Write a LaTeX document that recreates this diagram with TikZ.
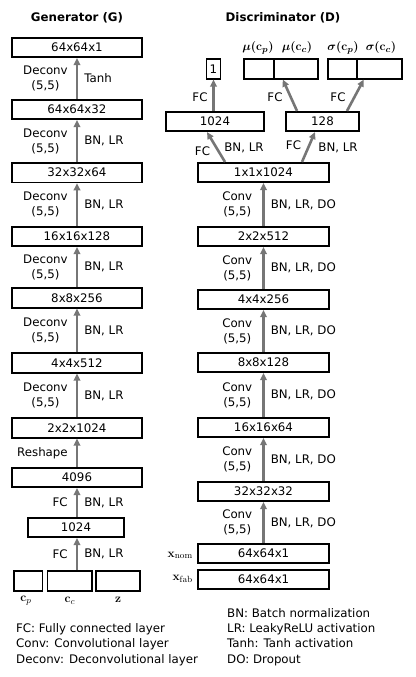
\documentclass[tikz,border=0pt]{standalone}
\usepackage[no-math]{fontspec}
\setmainfont{DejaVu Sans}
\usepackage{amsmath}
\usepackage{bm}
\usetikzlibrary{arrows.meta,calc}
\definecolor{arrgray}{RGB}{118,118,118}
\begin{document}
\begin{tikzpicture}[x=1pt,y=-1pt,
  font=\fontsize{11.8}{15}\selectfont,
  box/.style={draw,line width=1.6pt,minimum height=19.5pt,inner sep=0pt},
  gbox/.style={box,minimum width=130pt},
  dbox/.style={box,minimum width=131pt},
  arr/.style={draw=arrgray,line width=2.6pt,-{Triangle[length=7pt,width=6.5pt]}},
  lab/.style={inner sep=0pt,align=center},
  mlab/.style={inner sep=0pt,font=\fontsize{13}{15}\selectfont},
  llab/.style={lab,anchor=east,xshift=-8pt},
  rlab/.style={lab,anchor=west,xshift=6pt},
  dllab/.style={lab,anchor=east,xshift=-10pt},
  leg/.style={inner sep=0pt,anchor=base west},
]
\useasboundingbox (0,0) rectangle (415,677);

% titles
\node[lab,font=\fontsize{11.8}{15}\selectfont\bfseries] (tg) at (77,18) {Generator (G)};
\node[lab,font=\fontsize{11.8}{15}\selectfont\bfseries] (td) at (283,18) {Discriminator (D)};

% generator
\node[gbox] (g1) at (77,47.5) {64x64x1};
\node[gbox] (g2) at (77,109.5) {64x64x32};
\node[gbox] (g3) at (77,172.7) {32x32x64};
\node[gbox] (g4) at (77,236.5) {16x16x128};
\node[gbox] (g5) at (77,298) {8x8x256};
\node[gbox] (g6) at (77,363) {4x4x512};
\node[gbox] (g7) at (77,428) {2x2x1024};
\node[gbox] (g8) at (77,477.5) {4096};
\node[box,minimum width=96.5pt] (g9) at (76,527.5) {1024};
\node[box,minimum width=28.5pt,minimum height=20.5pt] (inp) at (28.3,581) {};
\node[box,minimum width=44.5pt,minimum height=20.5pt] (inc) at (69.7,581) {};
\node[box,minimum width=44.2pt,minimum height=20.5pt] (inz) at (117.8,581) {};
\node[mlab] (lcp) at (26,601) {$\mathbf{c}_p$};
\node[mlab] (lcc) at (70,601) {$\mathbf{c}_c$};
\node[mlab] (lz) at (118,600) {$\mathbf{z}$};

\draw[arr] (g2.north) -- node[llab] (ga1) {Deconv\\(5,5)} node[rlab] (gb1) {Tanh} (g1.south);
\draw[arr] (g3.north) -- node[llab] (ga2) {Deconv\\(5,5)} node[rlab] (gb2) {BN, LR} (g2.south);
\draw[arr] (g4.north) -- node[llab] (ga3) {Deconv\\(5,5)} node[rlab] (gb3) {BN, LR} (g3.south);
\draw[arr] (g5.north) -- node[llab] (ga4) {Deconv\\(5,5)} node[rlab] (gb4) {BN, LR} (g4.south);
\draw[arr] (g6.north) -- node[llab] (ga5) {Deconv\\(5,5)} node[rlab] (gb5) {BN, LR} (g5.south);
\draw[arr] (g7.north) -- node[llab] (ga6) {Deconv\\(5,5)} node[rlab] (gb6) {BN, LR} (g6.south);
\draw[arr] (g8.north) -- node[llab] (ga7) {Reshape} (g7.south);
\draw[arr] (g9.north -| g8.south) -- node[llab] (ga8) {FC} node[rlab] (gb8) {BN, LR} (g8.south);
\draw[arr] (inc.north -| g8.south) -- node[llab] (ga9) {FC} node[rlab] (gb9) {BN, LR} (g9.south -| g8.south);

% discriminator
\node[dbox] (d1) at (263.5,172.5) {1x1x1024};
\node[dbox] (d2) at (263.5,236.5) {2x2x512};
\node[dbox] (d3) at (263.5,299.5) {4x4x256};
\node[dbox] (d4) at (263.5,362.5) {8x8x128};
\node[dbox] (d5) at (263.5,427.5) {16x16x64};
\node[dbox] (d6) at (263.5,491.5) {32x32x32};
\node[dbox] (dn) at (263.5,553.5) {64x64x1};
\node[dbox] (df) at (263.5,579.5) {64x64x1};
\node[mlab,anchor=base east] (xn) at (193,557) {$\mathbf{x}_{\mathrm{nom}}$};
\node[mlab,anchor=base east] (xf) at (193,580.5) {$\mathbf{x}_{\mathrm{fab}}$};

\draw[arr] (d2.north) -- node[dllab] (da1) {Conv\\(5,5)} node[rlab] (db1) {BN, LR, DO} (d1.south);
\draw[arr] (d3.north) -- node[dllab] (da2) {Conv\\(5,5)} node[rlab] (db2) {BN, LR, DO} (d2.south);
\draw[arr] (d4.north) -- node[dllab] (da3) {Conv\\(5,5)} node[rlab] (db3) {BN, LR, DO} (d3.south);
\draw[arr] (d5.north) -- node[dllab] (da4) {Conv\\(5,5)} node[rlab] (db4) {BN, LR, DO} (d4.south);
\draw[arr] (d6.north) -- node[dllab] (da5) {Conv\\(5,5)} node[rlab] (db5) {BN, LR, DO} (d5.south);
\draw[arr] (dn.north) -- node[dllab] (da6) {Conv\\(5,5)} node[rlab] (db6) {BN, LR, DO} (d6.south);

% top of discriminator
\node[box,minimum width=98.5pt] (dfc) at (215,121.5) {1024};
\node[box,minimum width=73.5pt] (d128) at (322.5,121.5) {128};
\node[box,minimum width=14pt] (done) at (213.5,69) {1};
\node[box,minimum width=30pt] (mup) at (259,69) {};
\node[box,minimum width=44pt] (muc) at (296,69) {};
\node[box,minimum width=29pt] (sigp) at (342.5,69) {};
\node[box,minimum width=45pt] (sigc) at (379.5,69) {};
\node[mlab] (lmup) at (258,48) {$\bm{\mu(\mathbf{c}_p)}$};
\node[mlab] (lmuc) at (297,48) {$\bm{\mu(\mathbf{c}_c)}$};
\node[mlab] (lsigp) at (343,48) {$\bm{\sigma(\mathbf{c}_p)}$};
\node[mlab] (lsigc) at (381,48) {$\bm{\sigma(\mathbf{c}_c)}$};

\draw[arr] ([xshift=-38.5pt]d1.north) -- ([xshift=-8pt]dfc.south);
\draw[arr] ([xshift=38.5pt]d1.north) -- ([xshift=-7.5pt]d128.south);
\draw[arr] (done.south |- dfc.north) -- (done.south);
\draw[arr] ([xshift=-25.5pt]d128.north) -- ([xshift=8pt]mup.south east);
\draw[arr] ([xshift=24.5pt]d128.north) -- ([xshift=6pt]sigp.south east);

\node[lab] (t1) at (202.5,151) {FC};
\node[lab] (t2) at (244,147.5) {BN, LR};
\node[lab] (t3) at (293.5,145.5) {FC};
\node[lab] (t4) at (338,148) {BN, LR};
\node[lab] (t5) at (200,97) {FC};
\node[lab] (t6) at (275,97) {FC};
\node[lab] (t7) at (338,97) {FC};

% legend
\node[leg] (e1) at (16,632.6) {FC: Fully connected layer};
\node[leg] (e2) at (16,647.6) {Conv: Convolutional layer};
\node[leg] (e3) at (16,663.3) {Deconv: Deconvolutional layer};
\node[leg] (e4) at (227,617.6) {BN: Batch normalization};
\node[leg] (e5) at (227,632.6) {LR: LeakyReLU activation};
\node[leg] (e6) at (227,647.6) {Tanh: Tanh activation};
\node[leg] (e7) at (227,663.3) {DO: Dropout};
\end{tikzpicture}
\end{document}
